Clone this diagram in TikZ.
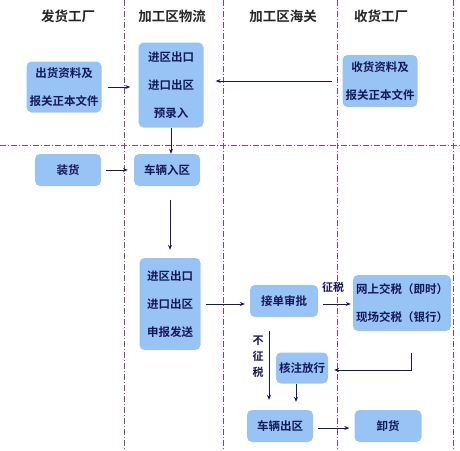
\documentclass[tikz,border=0pt]{standalone}
\usepackage{fontspec}
\setmainfont{Noto Sans CJK SC}[BoldFont={* Bold}]
\usetikzlibrary{arrows.meta}
\definecolor{boxblue}{RGB}{152,196,245}
\definecolor{navy}{RGB}{22,24,92}
\definecolor{lanepurple}{RGB}{135,70,125}

\begin{document}
\begin{tikzpicture}[
    x=1pt, y=-1pt,
    >={Stealth[length=5pt,width=4pt]},
    every node/.style={font=\bfseries\fontsize{11.5}{28}\selectfont, text=navy},
    stepbox/.style={fill=boxblue, rounded corners=5pt, minimum height=32pt, align=center, inner sep=3pt},
    head/.style={font=\bfseries\fontsize{13.5}{16}\selectfont, text=black!85},
    lane/.style={lanepurple, line width=0.8pt, dash pattern=on 6pt off 2pt on 1pt off 2pt},
    flow/.style={->, navy, line width=1pt}
]
\useasboundingbox (0,0) rectangle (460,450);

% lanes
\foreach \x in {124,223,337,453}
    \draw[lane] (\x,0) -- (\x,450);
\draw[lane] (0,145) -- (460,145);

\node[head] (h1) at (68,16) {发货工厂};
\node[head] (h2) at (172,16) {加工区物流};
\node[head] (h3) at (283,16) {加工区海关};
\node[head] (h4) at (381,16) {收货工厂};

\node[stepbox, minimum width=66pt, minimum height=51pt] (a) at (64,87) {出货资料及\\报关正本文件};
\node[stepbox, minimum width=65pt, minimum height=85pt] (b) at (171,85) {进区出口\\进口出区\\预录入};
\node[stepbox, minimum width=68pt, minimum height=52pt] (c) at (380,81) {收货资料及\\报关正本文件};

\node[stepbox, minimum width=66pt] (d) at (68,170) {装货};
\node[stepbox, minimum width=66pt] (e) at (167,170) {车辆入区};

\node[stepbox, minimum width=61pt, minimum height=92pt] (f) at (170,304) {进区出口\\进口出区\\申报发送};
\node[stepbox, minimum width=68pt] (g) at (284,301) {接单审批};
\node[stepbox, minimum width=93pt, minimum height=56pt] (h) at (402,303) {网上交税（即时）\\现场交税（银行）};
\node[stepbox, minimum width=49pt, minimum height=31pt] (i) at (302,368) {核注放行};
\node[stepbox, minimum width=66pt] (j) at (280,426) {车辆出区};
\node[stepbox, minimum width=67pt] (k) at (388,426) {卸货};

\node[font=\bfseries\fontsize{11}{13}\selectfont] (tax) at (333,287) {征税};
\node[font=\bfseries\fontsize{11}{16}\selectfont, align=center] (notax) at (258,357) {不\\征\\税};

\draw[flow, shorten <=6pt, shorten >=8pt] (a.east) -- (a.east -| b.west);
\draw[flow, shorten <=10pt, shorten >=12pt] (c.west) -- (c.west -| b.east);
\draw[flow] (b.south) -- (b.south |- e.north);
\draw[flow, shorten <=5pt, shorten >=6pt] (d.east) -- (d.east -| e.west);
\draw[flow, shorten <=14pt, shorten >=8pt] ([xshift=3pt]e.south) -- ([xshift=3pt]e.south |- f.north);
\draw[flow, shorten <=5pt, shorten >=5pt] (f.east) -- (f.east -| g.west);
\draw[flow, shorten <=5pt, shorten >=2pt] ([yshift=-3pt]g.east) -- ([yshift=-3pt]g.east -| h.west);
\draw[flow, shorten >=6pt] ([xshift=9pt,yshift=-22pt]h.south) |- ([yshift=-2pt]i.east);
\draw[flow, shorten <=14pt, shorten >=10pt] ([xshift=-15pt]g.south) -- ([xshift=-15pt]g.south |- j.north);
\draw[flow, shorten >=8pt] ([xshift=-6pt]i.south) -- ([xshift=-6pt]i.south |- j.north);
\draw[flow, shorten <=5pt, shorten >=5pt] ([yshift=-2pt]j.east) -- ([yshift=-2pt]j.east -| k.west);

\end{tikzpicture}
\end{document}
